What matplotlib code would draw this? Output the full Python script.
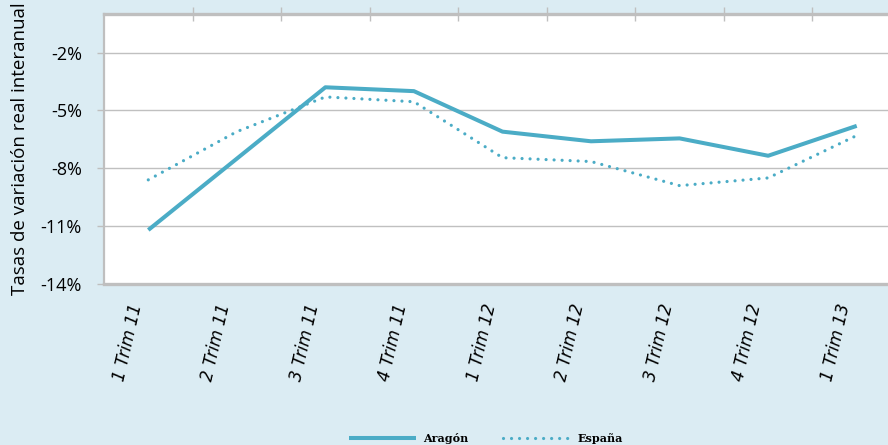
import matplotlib
matplotlib.use("Agg")
import matplotlib.pyplot as plt
import matplotlib.transforms as mtransforms
import numpy as np

categories = ["1 Trim 11", "2 Trim 11", "3 Trim 11", "4 Trim 11", "1 Trim 12",
              "2 Trim 12", "3 Trim 12", "4 Trim 12", "1 Trim 13"]
aragon = [-11.2, -7.5, -3.8, -4.0, -6.1, -6.6, -6.45, -7.35, -5.8]
espana = [-8.6, -6.1, -4.3, -4.55, -7.45, -7.65, -8.9, -8.5, -6.3]
yticks = [-14, -11, -8, -5, -2]
ytick_labels = ["-14%", "-11%", "-8%", "-5%", "-2%"]

W, H = 888, 445
bg = "#DBECF3"
line_color = "#4BACC6"
grid_color = "#C0C0C0"
border_color = "#BFBFBF"

fig = plt.figure(figsize=(W / 100, H / 100), dpi=100, facecolor=bg)
left, right, top, bottom = 104, 901, 14, 284
ax = fig.add_axes([left / W, 1 - bottom / H, (right - left) / W, (bottom - top) / H])
ax.set_facecolor("white")

x = np.arange(len(categories))
ax.plot(x, aragon, color=line_color, lw=2.9, solid_capstyle="butt", label="Aragón", zorder=3)
ax.plot(x, espana, color=line_color, lw=2.3, linestyle=(0, (0.01, 2.5)),
        dash_capstyle="round", label="España", zorder=3)

ax.set_xlim(-0.5, len(categories) - 0.5)
ax.set_ylim(-14, 0)
ax.set_yticks(yticks)
ax.set_yticklabels(ytick_labels, fontfamily="Open Sans", fontsize=13)
ax.yaxis.grid(True, color=grid_color, lw=1.0)
ax.set_axisbelow(True)
ax.tick_params(axis="y", length=5, color=border_color, width=1.0, pad=11)

# Category ticks on top (boundaries), labels at bottom (centers)
ax.set_xticks(x)
ax.set_xticks(np.arange(0.5, len(categories) - 0.5, 1), minor=True)
ax.tick_params(axis="x", which="major", length=0, bottom=True, top=False, pad=13)
ax.tick_params(axis="x", which="minor", top=True, bottom=False, direction="inout",
               length=9.5, color=border_color, width=1.0)
ax.set_xticklabels(categories, rotation=77, ha="right", va="top",
                   fontfamily="DejaVu Sans", fontstyle="oblique", fontsize=12)
offset = mtransforms.ScaledTranslation(-3 / 100, 0, fig.dpi_scale_trans)
for lbl in ax.get_xticklabels():
    lbl.set_transform(lbl.get_transform() + offset)

for side in ["top", "bottom"]:
    ax.spines[side].set_color(border_color)
    ax.spines[side].set_linewidth(2.4)
ax.spines["left"].set_color(border_color)
ax.spines["left"].set_linewidth(1.6)
ax.spines["right"].set_visible(False)

fig.text(20 / W, 1 - 149 / H, "Tasas de variación real interanual", rotation=90,
         ha="center", va="center", fontfamily="Open Sans", fontsize=13.5)

leg = fig.legend(loc="center", bbox_to_anchor=(486 / W, 1 - 438 / H), ncol=2,
                 frameon=False, handlelength=6.1, columnspacing=3.1, handletextpad=0.63,
                 prop={"family": "DejaVu Serif", "weight": "bold", "size": 8})

fig.savefig("out.png", dpi=100, facecolor=bg)
